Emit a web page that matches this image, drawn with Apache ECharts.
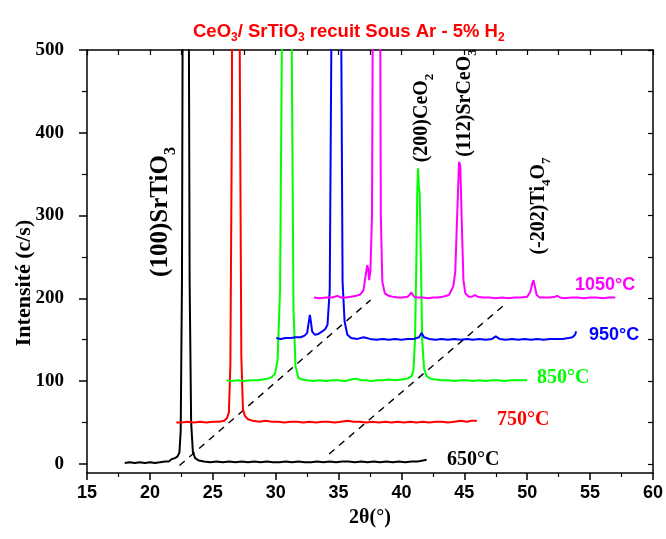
<!DOCTYPE html>
<html>
<head>
<meta charset="utf-8">
<script src="https://cdn.jsdelivr.net/npm/echarts@6/dist/echarts.min.js"></script>
<style>html,body{margin:0;padding:0;background:#fff}#c{width:666px;height:539px}</style>
</head>
<body>
<div id="c"></div>
<script>
// ---- data (2theta in degrees, intensity in c/s) ----
var xTicks = [15, 20, 25, 30, 35, 40, 45, 50, 55, 60];
var yTickLabels = [0, 100, 200, 300, 400, 500];
var yMinorTicks = [50, 150, 250, 350, 450];
var yRightTicks = [0, 50, 100, 150, 200, 250, 300, 350, 400, 450, 500];

var black650 = [[18.0,1],[18.4,2],[18.8,1],[19.2,2],[19.6,1],[20.0,2],[20.4,1],[20.8,2],[21.2,3],[21.5,3],[21.75,6],[22.0,7],[22.2,9],[22.35,14],[22.45,40],[22.55,220],[22.62,620],[22.85,3000],[23.08,620],[23.16,220],[23.28,50],[23.42,14],[23.6,7],[23.9,4],[24.3,3],[24.8,2],[25.3,3],[25.8,2],[26.3,3],[26.8,2],[27.3,3],[27.8,2],[28.3,3],[28.8,2],[29.3,3],[29.8,2],[30.3,2],[30.8,3],[31.3,2],[31.8,3],[32.3,2],[32.8,2],[33.3,3],[33.8,2],[34.3,3],[34.8,2],[35.3,3],[35.8,3],[36.3,2],[36.8,3],[37.3,2],[37.8,3],[38.3,2],[38.8,3],[39.3,2],[39.8,3],[40.3,2],[40.8,3],[41.3,3],[41.7,4],[42.0,5]];

var red750 = [[22.1,50],[22.5,50],[23.0,51],[23.5,50],[24.0,51],[24.5,50],[25.0,51],[25.5,51],[25.9,52],[26.12,55],[26.28,62],[26.4,120],[26.52,420],[26.6,1200],[26.85,3000],[27.08,1200],[27.15,480],[27.27,130],[27.4,66],[27.55,58],[27.8,54],[28.2,52],[28.7,51],[29.2,52],[29.7,51],[30.2,51],[30.7,50],[31.2,51],[31.7,51],[32.2,50],[32.7,51],[33.2,50],[33.7,51],[34.2,51],[34.7,50],[35.2,51],[35.7,52],[36.2,51],[36.7,51],[37.2,50],[37.7,51],[38.2,50],[38.7,51],[39.2,50],[39.7,51],[40.2,50],[40.7,51],[41.2,50],[41.7,51],[42.2,50],[42.7,51],[43.2,51],[43.7,50],[44.2,51],[44.7,52],[45.2,51],[45.6,52],[46.0,52]];

var green850 = [[26.1,101],[26.5,100],[27.0,101],[27.5,100],[28.0,101],[28.5,101],[29.0,102],[29.4,103],[29.7,105],[29.95,109],[30.15,125],[30.35,210],[30.5,520],[30.6,1500],[30.9,3000],[31.18,1500],[31.27,520],[31.42,185],[31.58,118],[31.8,104],[32.1,102],[32.5,101],[33.0,100],[33.5,101],[34.0,100],[34.5,101],[35.0,101],[35.5,100],[36.0,102],[36.4,103],[36.8,101],[37.2,101],[37.6,100],[38.0,101],[38.5,101],[39.0,102],[39.5,101],[40.0,102],[40.5,103],[40.8,106],[40.95,112],[41.08,150],[41.18,240],[41.26,330],[41.32,357],[41.39,333],[41.45,328],[41.54,250],[41.65,150],[41.8,115],[42.0,106],[42.3,103],[42.7,102],[43.2,101],[43.7,101],[44.2,100],[44.7,101],[45.2,101],[45.7,100],[46.2,101],[46.7,100],[47.2,101],[47.7,101],[48.2,100],[48.7,101],[49.2,101],[49.6,101],[50.0,101]];

var blue950 = [[30.05,152],[30.4,151],[30.8,152],[31.2,152],[31.6,153],[32.0,153],[32.3,155],[32.5,158],[32.62,170],[32.72,180],[32.8,172],[32.9,160],[33.1,156],[33.4,157],[33.7,160],[33.95,163],[34.12,168],[34.3,210],[34.45,560],[34.55,1500],[34.85,3000],[35.1,1500],[35.2,560],[35.32,220],[35.48,172],[35.7,156],[36.0,152],[36.5,151],[37.0,153],[37.5,151],[38.0,150],[38.5,151],[39.0,150],[39.5,151],[40.0,150],[40.5,151],[41.0,151],[41.4,153],[41.6,158],[41.8,153],[42.2,151],[42.7,150],[43.2,151],[43.7,150],[44.2,151],[44.7,150],[45.2,151],[45.7,150],[46.2,151],[46.7,150],[47.2,151],[47.5,154],[47.8,151],[48.3,150],[48.8,151],[49.3,150],[49.8,151],[50.3,150],[50.8,151],[51.3,150],[51.8,151],[52.3,151],[52.8,151],[53.3,152],[53.6,153],[53.8,156],[53.9,160]];

var magenta1050 = [[33.05,201],[33.5,200],[34.0,201],[34.5,201],[34.9,203],[35.2,201],[35.6,201],[36.0,202],[36.4,203],[36.75,205],[36.98,210],[37.13,225],[37.28,240],[37.36,236],[37.43,222],[37.53,232],[37.66,300],[37.76,700],[37.86,1500],[38.03,3000],[38.2,1500],[38.28,700],[38.36,300],[38.48,220],[38.68,206],[38.98,203],[39.3,202],[39.7,201],[40.1,201],[40.5,202],[40.8,207],[41.0,202],[41.3,201],[41.7,201],[42.1,200],[42.5,201],[42.9,201],[43.3,202],[43.78,204],[43.98,210],[44.13,215],[44.28,232],[44.43,300],[44.58,365],[44.68,360],[44.8,290],[44.93,222],[45.08,206],[45.35,202],[45.6,202],[45.85,204],[46.05,202],[46.5,201],[47.0,201],[47.5,200],[48.0,201],[48.5,200],[49.0,201],[49.5,201],[50.0,202],[50.25,208],[50.4,218],[50.5,222],[50.6,215],[50.75,204],[51.0,201],[51.3,201],[51.8,201],[52.2,202],[52.4,203],[52.6,201],[53.0,200],[53.5,201],[54.0,201],[54.5,200],[55.0,201],[55.5,201],[56.0,200],[56.5,201],[57.0,201]];

var guide1 = [[22.35,-2],[37.55,198]];
var guide2 = [[34.25,12],[48.25,193]];

var seriesNames = ['650°C', '750°C', '850°C', '950°C', '1050°C'];
var seriesColors = ['#000000', '#ff0000', '#00ff00', '#0000ff', '#ff00ff'];
var seriesData = [black650, red750, green850, blue950, magenta1050];

// ---- chart ----
var chart = echarts.init(document.getElementById('c'), null, {renderer: 'canvas'});
var serif = 'Liberation Serif, Times New Roman, serif';
var sans = 'Liberation Sans, Arial, sans-serif';

function rotLabel(x, y, parts, size) {
  var fs = size || 20;
  return {
    type: 'text', x: x, y: y, rotation: Math.PI / 2, z: 100,
    style: {
      text: parts, align: 'center', verticalAlign: 'middle',
      rich: {
        m: {fontFamily: serif, fontWeight: 'bold', fontSize: fs, lineHeight: Math.round(fs * 1.4), fill: '#000'},
        s: {fontFamily: serif, fontWeight: 'bold', fontSize: Math.round(fs * 0.65), lineHeight: Math.round(fs * 0.65), verticalAlign: 'bottom', fill: '#000'}
      }
    }
  };
}
function tLabel(x, y, txt, color, fam, size) {
  return {type: 'text', x: x, y: y, z: 100,
    style: {text: txt, fill: color, fontFamily: fam, fontWeight: 'bold', fontSize: size, align: 'left', verticalAlign: 'middle'}};
}

var series = [
  {type: 'line', data: guide1, showSymbol: false, silent: true, lineStyle: {color: '#000', width: 1.4, type: [7, 6]}, z: 1},
  {type: 'line', data: guide2, showSymbol: false, silent: true, lineStyle: {color: '#000', width: 1.4, type: [7, 6]}, z: 1}
];
for (var i = 0; i < seriesData.length; i++) {
  series.push({type: 'line', name: seriesNames[i], data: seriesData[i], showSymbol: false, clip: true,
    lineStyle: {color: seriesColors[i], width: 2}, z: 2 + i});
}

var option = {
  animation: false,
  backgroundColor: '#fff',
  title: {
    left: 188, top: 15,
    text: '{a|CeO}{s|3}{a|/ SrTiO}{s|3}{a| recuit Sous Ar - 5% H}{s|2}',
    textStyle: {
      rich: {
        a: {fontFamily: sans, fontWeight: 'bold', fontSize: 18.5, lineHeight: 24, color: '#ff0000'},
        s: {fontFamily: sans, fontWeight: 'bold', fontSize: 12, lineHeight: 12, verticalAlign: 'bottom', color: '#ff0000'}
      }
    }
  },
  grid: {left: 87, right: 10, top: 50, bottom: 66, containLabel: false},
  xAxis: [
    {type: 'value', min: 15, max: 60, interval: 5, position: 'bottom',
      name: '2θ(°)', nameLocation: 'middle', nameGap: 35, nameMoveOverlap: false,
      nameTextStyle: {fontFamily: serif, fontWeight: 'bold', fontSize: 20, color: '#000', verticalAlign: 'top'},
      axisLine: {show: true, onZero: false, lineStyle: {color: '#000', width: 1.5}},
      axisTick: {show: true, inside: false, length: 7, lineStyle: {color: '#000', width: 1.5}},
      minorTick: {show: true, splitNumber: 2, length: 4, lineStyle: {color: '#000', width: 1.2}},
      axisLabel: {fontFamily: sans, fontWeight: 'bold', fontSize: 18, color: '#000', margin: 11},
      splitLine: {show: false}},
    {type: 'value', min: 15, max: 60, interval: 2.5, position: 'top',
      axisLine: {show: true, onZero: false, lineStyle: {color: '#000', width: 1.5}},
      axisTick: {show: true, inside: true, length: 5, lineStyle: {color: '#000', width: 1.2}},
      axisLabel: {show: false}, splitLine: {show: false}}
  ],
  yAxis: [
    {type: 'value', min: -11, max: 500, position: 'left',
      axisLine: {show: true, onZero: false, lineStyle: {color: '#000', width: 1.5}},
      axisTick: {show: true, inside: false, length: 8, customValues: yTickLabels, lineStyle: {color: '#000', width: 1.5}},
      axisLabel: {customValues: yTickLabels, fontFamily: serif, fontWeight: 'bold', fontSize: 19, color: '#000', margin: 23},
      splitLine: {show: false}},
    {type: 'value', min: -11, max: 500, position: 'left',
      axisLine: {show: false, onZero: false},
      axisTick: {show: true, inside: false, length: 5, customValues: yMinorTicks, lineStyle: {color: '#000', width: 1.2}},
      axisLabel: {show: false}, splitLine: {show: false}},
    {type: 'value', min: -11, max: 500, position: 'right',
      axisLine: {show: true, onZero: false, lineStyle: {color: '#000', width: 1.5}},
      axisTick: {show: true, inside: true, length: 5, customValues: yRightTicks, lineStyle: {color: '#000', width: 1.2}},
      axisLabel: {show: false}, splitLine: {show: false}}
  ],
  series: series,
  graphic: [
    {type: 'text', x: 24, y: 283, rotation: Math.PI / 2, z: 100,
      style: {text: 'Intensité (c/s)', fontFamily: serif, fontWeight: 'bold', fontSize: 22, fill: '#000', align: 'center', verticalAlign: 'middle'}},
    rotLabel(161, 212, '{m|(100)SrTiO}{s|3}', 25),
    rotLabel(422, 118, '{m|(200)CeO}{s|2}'),
    rotLabel(465, 103, '{m|(112)SrCeO}{s|3}'),
    rotLabel(539, 206, '{m|(-202)Ti}{s|4}{m|O}{s|7}'),
    tLabel(447, 460, seriesNames[0], seriesColors[0], serif, 20),
    tLabel(497, 420, seriesNames[1], seriesColors[1], serif, 20),
    tLabel(537, 378, seriesNames[2], seriesColors[2], serif, 20),
    tLabel(589, 335, seriesNames[3], seriesColors[3], sans, 18),
    tLabel(575, 285, seriesNames[4], seriesColors[4], sans, 18)
  ]
};
chart.setOption(option);
</script>
</body>
</html>
